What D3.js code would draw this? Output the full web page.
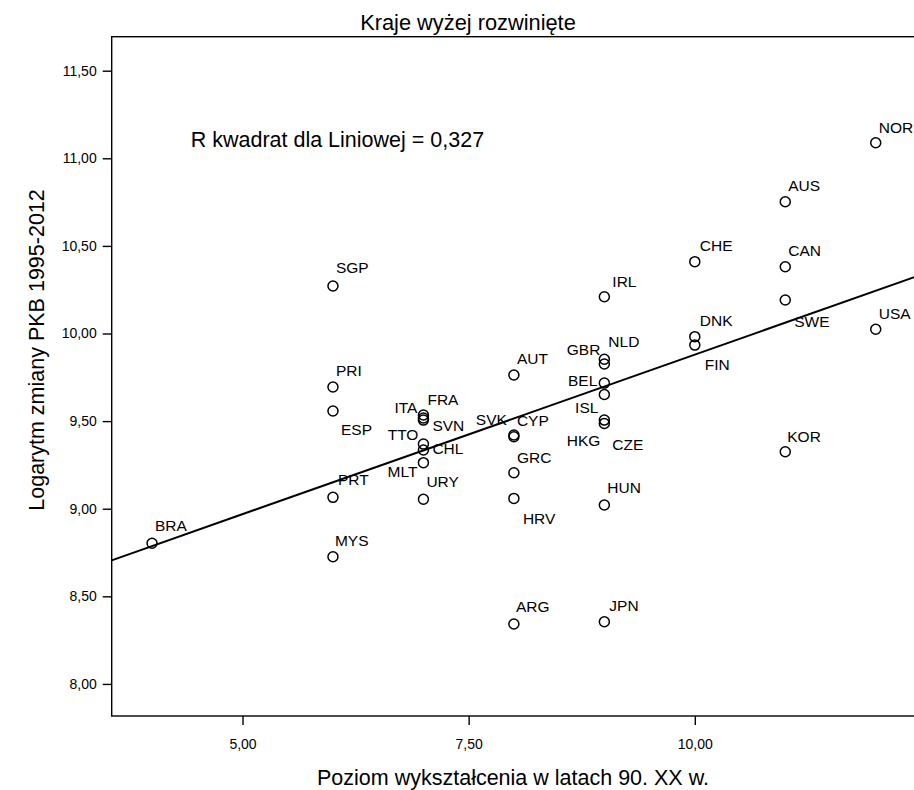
<!DOCTYPE html>
<html>
<head>
<meta charset="utf-8">
<script src="https://cdn.jsdelivr.net/npm/d3@7"></script>
<style>
  html, body { margin: 0; padding: 0; background: #fff; }
  svg { display: block; }
  text { font-family: "Liberation Sans", Arial, sans-serif; fill: #000; }
</style>
</head>
<body>
<svg id="chart" width="914" height="790"></svg>
<script>
// ---------- data ----------
const countries = ["BRA","SGP","PRI","ESP","PRT","MYS",
  "ITA","FRA","SVN","TTO","CHL","MLT","URY",
  "AUT","SVK","CYP","GRC","HRV","ARG",
  "IRL","NLD","GBR","BEL","ISL","HKG","CZE","HUN","JPN",
  "CHE","DNK","FIN","AUS","CAN","SWE","KOR","NOR","USA"];
const education = [4,6,6,6,6,6,
  7,7,7,7,7,7,7,
  8,8,8,8,8,8,
  9,9,9,9,9,9,9,9,9,
  10,10,10,11,11,11,11,12,12];
const logGdp = [8.803,10.271,9.695,9.558,9.065,8.726,
  9.535,9.518,9.506,9.369,9.335,9.263,9.054,
  9.763,9.421,9.411,9.205,9.059,8.342,
  10.210,9.853,9.826,9.717,9.652,9.506,9.487,9.021,8.355,
  10.410,9.982,9.934,10.752,10.381,10.191,9.325,11.089,10.024];
const xTicks = [5, 7.5, 10];
const yTicks = [8, 8.5, 9, 9.5, 10, 10.5, 11, 11.5];
const titleText = "Kraje wyżej rozwinięte";
const xTitle = "Poziom wykształcenia w latach 90. XX w.";
const yTitle = "Logarytm zmiany PKB 1995-2012";
const r2Text = "R kwadrat dla Liniowej = 0,327";

// ---------- layout (label placement, not data) ----------
const labelPos = {
  BRA:[3,-12], SGP:[3,-13], PRI:[3,-11], ESP:[8,24], PRT:[5,-12], MYS:[2,-11],
  ITA:[-6,-2,"end"], FRA:[4,-13], SVN:[9,11], TTO:[-5,-4,"end"], CHL:[9,4],
  MLT:[-6,14,"end"], URY:[3,-12], AUT:[3,-11], SVK:[-7,-10,"end"], CYP:[3,-11],
  GRC:[3,-10], HRV:[9,26], ARG:[2,-12], IRL:[8,-10], NLD:[4,-12],
  GBR:[-4,-9,"end"], BEL:[-7,3,"end"], ISL:[-6,19,"end"], HKG:[-4,26,"end"],
  CZE:[8,27], HUN:[3,-12], JPN:[5,-11], CHE:[5,-11], DNK:[5,-11], FIN:[10,25],
  AUS:[3,-11], CAN:[3,-11], SWE:[9,27], KOR:[2,-10], NOR:[3,-10], USA:[3,-10]
};

const svg = d3.select("#chart");
const plot = {left: 111.7, top: 36.7, right: 930, bottom: 716};

const x = d3.scaleLinear().domain([3.554, 12.6]).range([plot.left, plot.right]);
const y = d3.scaleLinear().domain([7.817, 11.694]).range([plot.bottom, plot.top]);
const fmt = v => d3.format(".2f")(v).replace(".", ",");

// frame
svg.append("rect")
  .attr("x", plot.left).attr("y", plot.top)
  .attr("width", plot.right - plot.left).attr("height", plot.bottom - plot.top)
  .attr("fill", "none").attr("stroke", "#000").attr("stroke-width", 1.4);

// axes
const yAxis = svg.append("g")
  .attr("transform", `translate(${plot.left},0)`)
  .call(d3.axisLeft(y).tickValues(yTicks).tickFormat(fmt).tickSize(9).tickPadding(6));
const xAxis = svg.append("g")
  .attr("transform", `translate(0,${plot.bottom})`)
  .call(d3.axisBottom(x).tickValues(xTicks).tickFormat(fmt).tickSize(9).tickPadding(14));
[xAxis, yAxis].forEach(g => {
  g.select(".domain").remove();
  g.selectAll(".tick line").attr("stroke", "#000").attr("stroke-width", 1.4);
  g.selectAll(".tick text").attr("font-size", 14).attr("font-family", "Liberation Sans, Arial, sans-serif").attr("fill", "#000");
});

// regression line (least squares on the data)
const n = education.length;
const mx = d3.mean(education), my = d3.mean(logGdp);
let sxy = 0, sxx = 0;
for (let i = 0; i < n; i++) { sxy += (education[i]-mx)*(logGdp[i]-my); sxx += (education[i]-mx)**2; }
const slope = sxy / sxx, intercept = my - slope * mx;
const xd = x.domain();
svg.append("line")
  .attr("x1", x(xd[0])).attr("y1", y(intercept + slope*xd[0]))
  .attr("x2", x(xd[1])).attr("y2", y(intercept + slope*xd[1]))
  .attr("stroke", "#000").attr("stroke-width", 2);

// points
const pts = countries.map((c, i) => ({c, ex: education[i], gy: logGdp[i]}));
svg.append("g").selectAll("circle").data(pts).join("circle")
  .attr("cx", d => x(d.ex)).attr("cy", d => y(d.gy)).attr("r", 5)
  .attr("fill", "none").attr("stroke", "#000").attr("stroke-width", 1.5);

svg.append("g").selectAll("text").data(pts).join("text")
  .attr("x", d => x(d.ex) + (labelPos[d.c] || [3,-11])[0])
  .attr("y", d => y(d.gy) + (labelPos[d.c] || [3,-11])[1])
  .attr("text-anchor", d => (labelPos[d.c] || [])[2] || "start")
  .attr("font-size", 15.5)
  .text(d => d.c);

// texts
svg.append("text").attr("x", 468).attr("y", 29.5).attr("text-anchor", "middle")
  .attr("font-size", 21.8).text(titleText);
svg.append("text").attr("x", 190.7).attr("y", 146.7)
  .attr("font-size", 21.5).text(r2Text);
svg.append("text").attr("x", 513).attr("y", 785).attr("text-anchor", "middle")
  .attr("font-size", 21.5).text(xTitle);
svg.append("text").attr("transform", "translate(44,350) rotate(-90)")
  .attr("text-anchor", "middle").attr("font-size", 21.5).text(yTitle);
</script>
</body>
</html>
